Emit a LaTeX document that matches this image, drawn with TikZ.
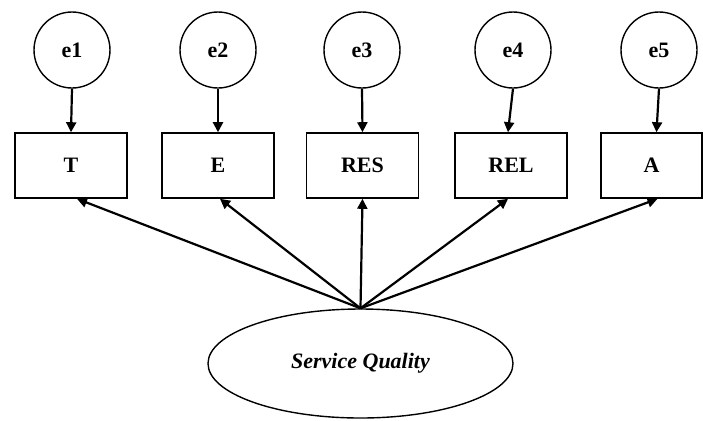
\documentclass[tikz,border=0pt]{standalone}
\usepackage{fontspec}
\setmainfont{Liberation Serif}
\usetikzlibrary{arrows.meta,shapes.geometric}
\begin{document}
\begin{tikzpicture}[x=0.5pt,y=-0.5pt,
  err/.style={circle,draw,line width=0.7pt,minimum size=38pt,inner sep=0pt,font=\fontsize{11}{13}\selectfont\bfseries},
  obs/.style={rectangle,draw,line width=0.8pt,minimum width=56pt,minimum height=32.5pt,inner sep=0pt,font=\fontsize{11}{13}\selectfont\bfseries},
  lat/.style={ellipse,draw,line width=0.7pt,minimum width=152.5pt,minimum height=54.5pt,inner sep=0pt,font=\fontsize{11}{13}\selectfont\bfseries\itshape},
  arr/.style={line width=1.1pt,-{Triangle[length=5pt,width=5pt]}}]
\useasboundingbox (0,0) rectangle (703,420);
% error terms
\node[err] (e1) at (72,50) {e1};
\node[err] (e2) at (218,50) {e2};
\node[err] (e3) at (362,50) {e3};
\node[err] (e4) at (513,50) {e4};
\node[err] (e5) at (659,50) {e5};
% observed variables
\node[obs] (T) at (71,165.5) {T};
\node[obs] (E) at (218,165.5) {E};
\node[obs] (RES) at (362.5,165.5) {RES};
\node[obs] (REL) at (511,165.5) {REL};
\node[obs,minimum width=50.5pt] (A) at (651.5,165.5) {A};
% latent variable
\node[lat] (SQ) at (360.5,363.5) {Service Quality};
% error arrows
\draw[arr] (e1.south) -- (T.north);
\draw[arr] (e2.south) -- (E.north);
\draw[arr] (e3.south) -- (RES.north);
\draw[arr] (e4.south) -- ([xshift=-1.5pt]REL.north);
\draw[arr] (e5.south) -- ([xshift=2.5pt]A.north);
% loadings
\draw[arr] (SQ.north) -- ([xshift=3pt]T.south);
\draw[arr] (SQ.north) -- ([xshift=1pt]E.south);
\draw[arr] (SQ.north) -- (RES.south);
\draw[arr] (SQ.north) -- ([xshift=-1.5pt]REL.south);
\draw[arr] (SQ.north) -- ([xshift=3pt]A.south);
\end{tikzpicture}
\end{document}
